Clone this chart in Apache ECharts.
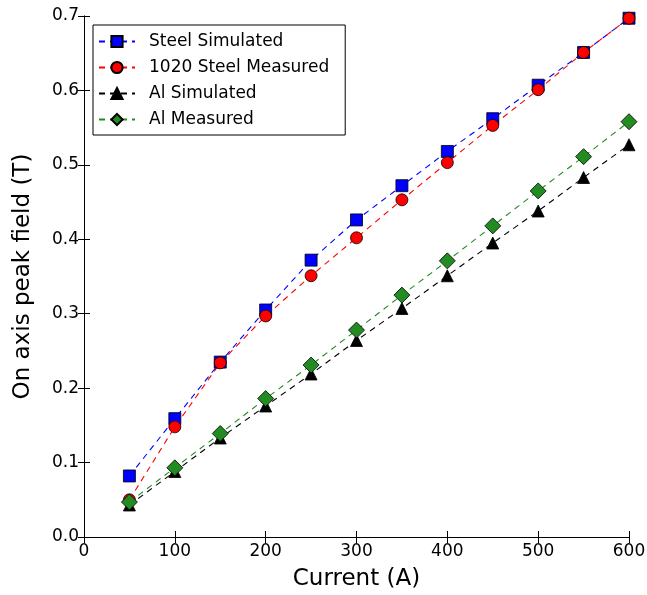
<!DOCTYPE html>
<html>
<head>
<meta charset="utf-8">
<script src="https://cdn.jsdelivr.net/npm/echarts@6/dist/echarts.min.js"></script>
<style>
  html, body { margin: 0; padding: 0; background: #fff; }
  #chart { width: 647px; height: 595px; }
</style>
</head>
<body>
<div id="chart"></div>
<script>
// current values (A)
const current = [50, 100, 150, 200, 250, 300, 350, 400, 450, 500, 550, 600];

// on axis peak field (T)
const steelSim = [0.082, 0.159, 0.235, 0.305, 0.372, 0.426, 0.472, 0.518, 0.562, 0.607, 0.651, 0.697];
const steelMeas = [0.050, 0.148, 0.234, 0.297, 0.351, 0.402, 0.453, 0.503, 0.553, 0.601, 0.651, 0.697];
const alSim = [0.043, 0.088, 0.133, 0.176, 0.219, 0.264, 0.307, 0.351, 0.395, 0.438, 0.483, 0.527];
const alMeas = [0.047, 0.093, 0.139, 0.186, 0.231, 0.278, 0.325, 0.371, 0.418, 0.465, 0.511, 0.558];

const FONT = 'DejaVu Sans';

const chart = echarts.init(document.getElementById('chart'));

function pairs(ys) {
    return current.map((x, i) => [x, ys[i]]);
}

function makeSeries(name, ys, color, symbol, size) {
    return {
        name: name,
        type: 'line',
        data: pairs(ys),
        symbol: symbol,
        symbolSize: size,
        showAllSymbol: true,
        lineStyle: { color: color, width: 1.1, type: [6, 5] },
        itemStyle: { color: color, borderColor: '#000', borderWidth: 0.8 },
        emphasis: { disabled: true },
        z: 3
    };
}

const hiddenAxis = {
    axisLabel: { show: false },
    axisLine: { show: true, lineStyle: { color: '#000', width: 1 } },
    axisTick: { inside: true, length: 6, lineStyle: { color: '#000' } },
    splitLine: { show: false }
};

const option = {
    animation: false,
    textStyle: { fontFamily: FONT },
    grid: { left: 84, right: 18, top: 16, bottom: 58, containLabel: false, outerBoundsMode: 'none' },
    legend: {
        orient: 'vertical',
        left: 93,
        top: 25,
        padding: [8, 16, 7, 5],
        itemGap: 9,
        itemWidth: 36,
        itemHeight: 14,
        borderColor: '#000',
        borderWidth: 1,
        borderRadius: 0,
        backgroundColor: '#fff',
        textStyle: { fontFamily: FONT, fontSize: 17, color: '#000', padding: [0, 0, 0, 9] },
        data: ['Steel Simulated', '1020 Steel Measured', 'Al Simulated', 'Al Measured']
    },
    xAxis: [
        {
            type: 'value',
            min: 0, max: 600, interval: 100,
            name: 'Current (A)',
            nameLocation: 'middle',
            nameGap: 31,
            nameTextStyle: { fontFamily: FONT, fontSize: 23, color: '#000' },
            axisLabel: { fontFamily: FONT, fontSize: 17, color: '#000', margin: 6 },
            axisLine: { lineStyle: { color: '#000', width: 1 } },
            axisTick: { inside: true, length: 6, lineStyle: { color: '#000' } },
            splitLine: { show: false }
        },
        Object.assign({ type: 'value', position: 'top', min: 0, max: 600, interval: 100 }, hiddenAxis)
    ],
    yAxis: [
        {
            type: 'value',
            min: 0, max: 0.7, interval: 0.1,
            name: 'On axis peak field (T)',
            nameLocation: 'middle',
            nameGap: 49,
            nameTextStyle: { fontFamily: FONT, fontSize: 23, color: '#000' },
            axisLabel: {
                fontFamily: FONT, fontSize: 17, color: '#000', margin: 5,
                formatter: v => v.toFixed(1)
            },
            axisLine: { show: true, lineStyle: { color: '#000', width: 1 } },
            axisTick: { inside: true, length: 6, lineStyle: { color: '#000' } },
            splitLine: { show: false }
        },
        Object.assign({ type: 'value', position: 'right', min: 0, max: 0.7, interval: 0.1 }, hiddenAxis)
    ],
    series: [
        makeSeries('Steel Simulated', steelSim, '#0000ff', 'rect', 12),
        makeSeries('1020 Steel Measured', steelMeas, '#ff0000', 'circle', 12),
        makeSeries('Al Simulated', alSim, '#000000', 'triangle', 12),
        makeSeries('Al Measured', alMeas, '#228b22', 'diamond', 16)
    ]
};

chart.setOption(option);
</script>
</body>
</html>
